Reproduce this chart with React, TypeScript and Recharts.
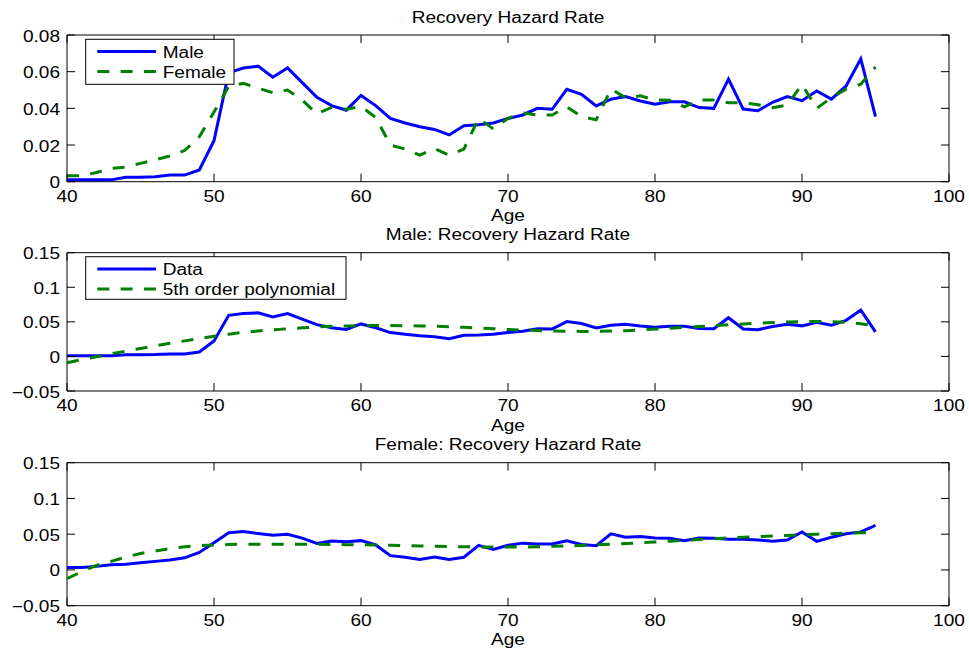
import { LineChart, Line, XAxis, YAxis, ReferenceArea } from "recharts";

const AGES = [
  40, 41, 42, 43, 44, 45, 46, 47, 48, 49, 50, 51, 52, 53, 54, 55, 56, 57, 58, 59,
  60, 61, 62, 63, 64, 65, 66, 67, 68, 69, 70, 71, 72, 73, 74, 75, 76, 77, 78, 79,
  80, 81, 82, 83, 84, 85, 86, 87, 88, 89, 90, 91, 92, 93, 94, 95,
];

const MALE = [
  0.001, 0.001, 0.001, 0.001, 0.0024, 0.0024, 0.0027, 0.0036, 0.0036, 0.0064,
  0.0224, 0.0595, 0.062, 0.063, 0.057, 0.062, 0.054, 0.046, 0.0415, 0.039,
  0.047, 0.0415, 0.0345, 0.032, 0.03, 0.0285, 0.0255, 0.0305, 0.031, 0.032,
  0.0345, 0.0364, 0.04, 0.0395, 0.0504, 0.0476, 0.0413, 0.045, 0.0464, 0.044,
  0.0422, 0.0436, 0.0436, 0.0404, 0.04, 0.056, 0.0396, 0.0387, 0.0433, 0.0464,
  0.0442, 0.0495, 0.045, 0.0522, 0.067, 0.0355,
];

const FEMALE = [
  0.0033, 0.0033, 0.005, 0.0073, 0.008, 0.01, 0.012, 0.014, 0.017, 0.0245,
  0.038, 0.052, 0.0536, 0.051, 0.0485, 0.05, 0.0445, 0.037, 0.0405, 0.0395,
  0.041, 0.035, 0.02, 0.0178, 0.0145, 0.018, 0.0145, 0.0178, 0.0345, 0.0288,
  0.0345, 0.0375, 0.0364, 0.0364, 0.0408, 0.0355, 0.0338, 0.0505, 0.0458, 0.0468,
  0.0446, 0.0444, 0.0408, 0.0446, 0.0445, 0.043, 0.043, 0.042, 0.0403, 0.0418,
  0.053, 0.04, 0.0458, 0.0505, 0.0532, 0.0625,
];

const MALE_FIT = [
  -0.0092, -0.0046, -0.0004, 0.0037, 0.0077, 0.0115, 0.0153, 0.019, 0.0225, 0.026,
  0.0292, 0.0322, 0.0348, 0.0368, 0.0385, 0.04, 0.0413, 0.0425, 0.0435, 0.0441,
  0.0445, 0.0447, 0.0447, 0.0445, 0.0441, 0.0436, 0.043, 0.0421, 0.0411, 0.04,
  0.039, 0.0381, 0.0374, 0.0368, 0.0364, 0.0362, 0.0362, 0.0366, 0.0373, 0.0383,
  0.0395, 0.0407, 0.042, 0.0432, 0.0445, 0.0457, 0.0469, 0.048, 0.049, 0.0498,
  0.0504, 0.0506, 0.0502, 0.0492, 0.0472, 0.044,
];

const FEMALE_FIT = [
  -0.012, -0.0025, 0.0065, 0.012, 0.018, 0.023, 0.0265, 0.03, 0.0325, 0.034,
  0.035, 0.0355, 0.036, 0.036, 0.036, 0.036, 0.036, 0.0358, 0.0356, 0.0354,
  0.0352, 0.0348, 0.0344, 0.034, 0.0336, 0.0332, 0.0328, 0.0325, 0.0322, 0.0321,
  0.032, 0.0321, 0.0325, 0.033, 0.0336, 0.0343, 0.0351, 0.036, 0.037, 0.038,
  0.039, 0.0402, 0.0414, 0.0425, 0.0436, 0.0447, 0.0456, 0.0465, 0.0474, 0.0483,
  0.0491, 0.05, 0.0508, 0.0515, 0.052, 0.0525,
];

const X_TICKS = [40, 50, 60, 70, 80, 90, 100];
const RATE_TICKS = [0, 0.02, 0.04, 0.06, 0.08];
const FIT_TICKS = [-0.05, 0, 0.05, 0.1, 0.15];

const BLUE = "#0000ff";
const GREEN = "#008000";
const DASH = "12 11.3";
const FONT = "'Liberation Sans', Arial, Helvetica, sans-serif";
const W = 969;
const H = 654;
const PLOT_LEFT = 67;
const PLOT_RIGHT = 949;
const STRETCH = 1.19;
const TICK_LEN = 8;

const rows = AGES.map((age, i) => ({
  age,
  male: MALE[i],
  female: FEMALE[i],
  maleFit: MALE_FIT[i],
  femaleFit: FEMALE_FIT[i],
}));

function label(v: number) {
  return String(v).replace("-", "\u2212");
}

function Txt({ x, y, anchor = "middle", dy = 0, children }: any) {
  return (
    <text
      transform={`translate(${x} ${y}) scale(${STRETCH} 1)`}
      dy={dy}
      textAnchor={anchor}
      fontSize={16}
      fontFamily={FONT}
      fill="#000"
    >
      {children}
    </text>
  );
}

interface PanelProps {
  top: number;
  bottom: number;
  ticks: number[];
  solid: string;
  dashed: string;
}

function Panel({ top, bottom, ticks, solid, dashed }: PanelProps) {
  const yMin = ticks[0];
  const yMax = ticks[ticks.length - 1];

  const xTick = (p: any) => (
    <g>
      <line x1={p.x} x2={p.x} y1={bottom} y2={bottom - TICK_LEN} stroke="#000" />
      <line x1={p.x} x2={p.x} y1={top} y2={top + TICK_LEN} stroke="#000" />
      <Txt x={p.x} y={bottom + 20}>{p.payload.value}</Txt>
    </g>
  );

  const yTick = (p: any) => (
    <g>
      <line x1={PLOT_LEFT} x2={PLOT_LEFT + TICK_LEN} y1={p.y} y2={p.y} stroke="#000" />
      <line x1={PLOT_RIGHT} x2={PLOT_RIGHT - TICK_LEN} y1={p.y} y2={p.y} stroke="#000" />
      <Txt x={60} y={p.y} anchor="end" dy={6.5}>{label(p.payload.value)}</Txt>
    </g>
  );

  return (
    <div style={{ position: "absolute", left: 0, top: 0 }}>
      <LineChart
        width={W}
        height={H}
        data={rows}
        margin={{ top, right: W - PLOT_RIGHT, bottom: H - bottom - 30, left: 0 }}
      >
        <XAxis
          dataKey="age"
          type="number"
          domain={[40, 100]}
          ticks={X_TICKS}
          interval={0}
          height={30}
          axisLine={false}
          tickLine={false}
          tick={xTick}
        />
        <YAxis
          type="number"
          domain={[yMin, yMax]}
          ticks={ticks}
          interval={0}
          width={PLOT_LEFT}
          axisLine={false}
          tickLine={false}
          tick={yTick}
        />
        <ReferenceArea
          x1={40}
          x2={100}
          y1={yMin}
          y2={yMax}
          fill="none"
          fillOpacity={0}
          stroke="#000"
          strokeWidth={1}
          strokeOpacity={1}
        />
        <Line
          type="linear"
          dataKey={solid}
          stroke={BLUE}
          strokeWidth={3}
          dot={false}
          isAnimationActive={false}
        />
        <Line
          type="linear"
          dataKey={dashed}
          stroke={GREEN}
          strokeWidth={3}
          strokeDasharray={DASH}
          dot={false}
          isAnimationActive={false}
        />
      </LineChart>
    </div>
  );
}

function LegendBox({ x, y, w, h, first, second }: any) {
  const l1 = y + 12.2;
  const l2 = y + 32.2;
  return (
    <g>
      <rect x={x} y={y} width={w} height={h} fill="#fff" stroke="#000" strokeWidth={1} />
      <line x1={x + 11.6} x2={x + 70.3} y1={l1} y2={l1} stroke={BLUE} strokeWidth={3} />
      <line
        x1={x + 11.6}
        x2={x + 70.3}
        y1={l2}
        y2={l2}
        stroke={GREEN}
        strokeWidth={3}
        strokeDasharray={DASH}
      />
      <Txt x={x + 77} y={l1 + 6} anchor="start">{first}</Txt>
      <Txt x={x + 77} y={l2 + 6} anchor="start">{second}</Txt>
    </g>
  );
}

export default function App() {
  const mid = (PLOT_LEFT + PLOT_RIGHT) / 2;
  return (
    <div
      style={{
        position: "absolute",
        left: 0,
        top: 0,
        width: W,
        height: H,
        background: "#fff",
        overflow: "hidden",
      }}
    >
      <Panel top={35} bottom={181.7} ticks={RATE_TICKS} solid="male" dashed="female" />
      <Panel top={252.7} bottom={391} ticks={FIT_TICKS} solid="male" dashed="maleFit" />
      <Panel top={462.7} bottom={605.7} ticks={FIT_TICKS} solid="female" dashed="femaleFit" />

      <svg
        width={W}
        height={H}
        style={{ position: "absolute", left: 0, top: 0, pointerEvents: "none" }}
      >
        <Txt x={mid} y={22.7}>Recovery Hazard Rate</Txt>
        <Txt x={mid} y={220.5}>Age</Txt>
        <Txt x={mid} y={240}>Male: Recovery Hazard Rate</Txt>
        <Txt x={mid} y={431}>Age</Txt>
        <Txt x={mid} y={450}>Female: Recovery Hazard Rate</Txt>
        <Txt x={mid} y={645}>Age</Txt>

        <LegendBox x={85.7} y={39.3} w={148.3} h={45} first="Male" second="Female" />
        <LegendBox
          x={85.7}
          y={256.7}
          w={260.3}
          h={42.6}
          first="Data"
          second="5th order polynomial"
        />
      </svg>
    </div>
  );
}
